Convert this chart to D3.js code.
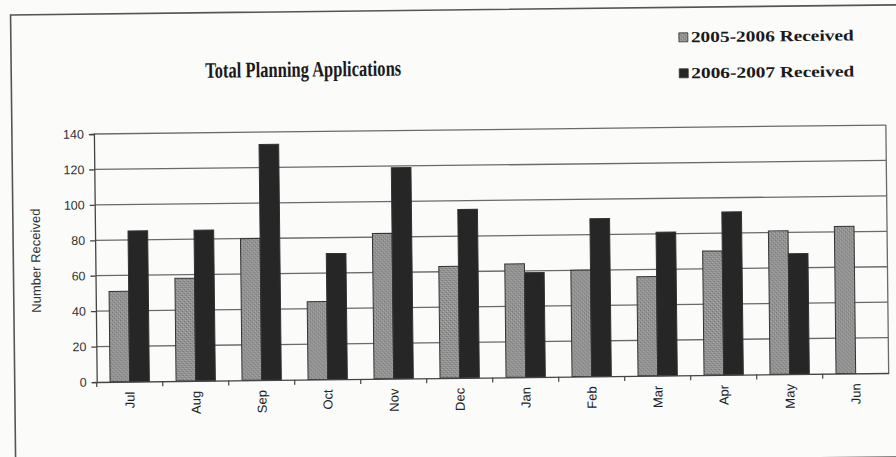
<!DOCTYPE html>
<html>
<head>
<meta charset="utf-8">
<script src="https://cdn.jsdelivr.net/npm/d3@7"></script>
<style>
  body { margin: 0; background: #fbfbfa; }
  svg { display: block; }
</style>
</head>
<body>
<div id="chart"></div>
<script>
const months = ['Jul', 'Aug', 'Sep', 'Oct', 'Nov', 'Dec', 'Jan', 'Feb', 'Mar', 'Apr', 'May', 'Jun']
const received_2005_2006 = [51, 58, 80, 44, 82, 63, 64, 60, 56, 70, 81, 83]
const received_2006_2007 = [85, 85, 133, 71, 119, 95, 59, 89, 81, 92, 68, null]
const series_names = ['2005-2006 Received', '2006-2007 Received']
const y_ticks = [0, 20, 40, 60, 80, 100, 120, 140]

const width = 896
const height = 457
const margin = { left: 95, right: 9, top: 130, bottom: 79 }

const svg = d3.select('#chart').append('svg')
    .attr('width', width)
    .attr('height', height)

// stippled grey fill, like the scanned print
const defs = svg.append('defs')
const pat = defs.append('pattern')
    .attr('id', 'stipple')
    .attr('width', 4)
    .attr('height', 4)
    .attr('patternUnits', 'userSpaceOnUse')
pat.append('rect').attr('width', 4).attr('height', 4).attr('fill', '#939393')
pat.append('rect').attr('x', 0).attr('y', 0).attr('width', 1).attr('height', 1).attr('fill', '#6a6a6a')
pat.append('rect').attr('x', 2).attr('y', 2).attr('width', 1).attr('height', 1).attr('fill', '#727272')
pat.append('rect').attr('x', 3).attr('y', 1).attr('width', 1).attr('height', 1).attr('fill', '#b4b4b4')
pat.append('rect').attr('x', 1).attr('y', 3).attr('width', 1).attr('height', 1).attr('fill', '#b0b0b0')

// the scan is slightly tilted
const root = svg.append('g')
    .attr('transform', `rotate(-0.65, ${width / 2}, ${height / 2})`)

// outer frame
root.append('rect')
    .attr('x', 13)
    .attr('y', 10)
    .attr('width', 900)
    .attr('height', 452)
    .attr('fill', 'none')
    .attr('stroke', '#555')
    .attr('stroke-width', 1.6)

const x0 = d3.scaleBand()
    .domain(months)
    .range([margin.left, width - margin.right])

const x1 = d3.scaleBand()
    .domain([0, 1])
    .range([0, x0.bandwidth()])
    .paddingOuter(0.68)
    .paddingInner(0)

const y = d3.scaleLinear()
    .domain([0, 140])
    .range([height - margin.bottom, margin.top])

// gridlines
root.append('g').selectAll('line')
    .data(y_ticks.filter(d => d > 0))
    .enter()
    .append('line')
    .attr('x1', margin.left)
    .attr('x2', width - margin.right)
    .attr('y1', d => y(d))
    .attr('y2', d => y(d))
    .attr('stroke', '#6a6a6a')
    .attr('stroke-width', 1.3)

// right edge of plot area
root.append('line')
    .attr('x1', width - margin.right)
    .attr('x2', width - margin.right)
    .attr('y1', y(140))
    .attr('y2', y(0))
    .attr('stroke', '#6a6a6a')
    .attr('stroke-width', 1.3)

// bars
const groups = root.append('g').selectAll('g')
    .data(months)
    .enter()
    .append('g')
    .attr('transform', d => `translate(${x0(d)}, 0)`)

groups.selectAll('rect')
    .data((d, i) => [received_2005_2006[i], received_2006_2007[i]]
        .map((v, k) => ({ k, v }))
        .filter(e => e.v != null))
    .enter()
    .append('rect')
    .attr('x', d => x1(d.k))
    .attr('width', x1.bandwidth())
    .attr('y', d => y(d.v))
    .attr('height', d => y(0) - y(d.v))
    .attr('fill', d => d.k === 0 ? 'url(#stipple)' : '#262626')
    .attr('stroke', '#333')
    .attr('stroke-width', 1)

// y axis
const yAxis = root.append('g')
    .attr('transform', `translate(${margin.left}, 0)`)
    .call(d3.axisLeft(y).tickValues(y_ticks).tickSize(5).tickPadding(5))
yAxis.selectAll('path, line').attr('stroke', '#444').attr('stroke-width', 1.3)
yAxis.selectAll('text')
    .attr('font-family', 'Liberation Sans, Arial, sans-serif')
    .attr('font-size', 12.5)
    .attr('fill', '#333')

// x axis
const xAxis = root.append('g')
    .attr('transform', `translate(0, ${y(0)})`)
    .call(d3.axisBottom(x0).tickSize(0).tickPadding(10))
xAxis.select('.domain').attr('stroke', '#444').attr('stroke-width', 1.3)
xAxis.selectAll('text')
    .attr('font-family', 'Liberation Sans, Arial, sans-serif')
    .attr('font-size', 13)
    .attr('fill', '#222')
    .attr('transform', 'rotate(-90)')
    .attr('text-anchor', 'end')
    .attr('dy', '0.35em')
    .attr('x', -10)
    .attr('y', 0)

// x tick marks between months
root.append('g').selectAll('line')
    .data(months)
    .enter()
    .append('line')
    .attr('x1', d => x0(d))
    .attr('x2', d => x0(d))
    .attr('y1', y(0))
    .attr('y2', y(0) + 5)
    .attr('stroke', '#444')
    .attr('stroke-width', 1.2)

// y axis title
root.append('text')
    .attr('transform', `translate(40, ${(y(0) + y(140)) / 2 + 2}) rotate(-90)`)
    .attr('text-anchor', 'middle')
    .attr('font-family', 'Liberation Sans, Arial, sans-serif')
    .attr('font-size', 13)
    .attr('fill', '#333')
    .text('Number Received')

// title
root.append('text')
    .attr('x', 207)
    .attr('y', 75)
    .attr('font-family', 'Liberation Serif, Times New Roman, serif')
    .attr('font-size', 22)
    .attr('font-weight', 'bold')
    .attr('fill', '#1a1a1a')
    .attr('textLength', 196)
    .attr('lengthAdjust', 'spacingAndGlyphs')
    .text('Total Planning Applications')

// legend
const legend = root.append('g').selectAll('g')
    .data(series_names)
    .enter()
    .append('g')
    .attr('transform', (d, i) => `translate(681, ${40 + i * 36})`)

legend.append('rect')
    .attr('x', 0)
    .attr('y', -4.5)
    .attr('width', 9)
    .attr('height', 9)
    .attr('fill', (d, i) => i === 0 ? 'url(#stipple)' : '#262626')
    .attr('stroke', '#333')
    .attr('stroke-width', 0.8)

legend.append('text')
    .attr('x', 12)
    .attr('y', 5)
    .attr('font-family', 'Liberation Serif, Times New Roman, serif')
    .attr('font-size', 15.5)
    .attr('font-weight', 'bold')
    .attr('fill', '#1a1a1a')
    .attr('textLength', 163)
    .attr('lengthAdjust', 'spacingAndGlyphs')
    .text(d => d)
</script>
</body>
</html>
